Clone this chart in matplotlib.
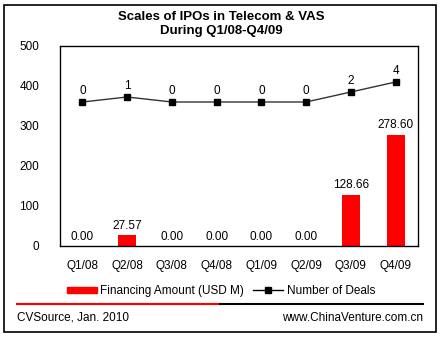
import matplotlib.pyplot as plt
from matplotlib.lines import Line2D
from matplotlib.patches import Rectangle

quarters = ['Q1/08', 'Q2/08', 'Q3/08', 'Q4/08', 'Q1/09', 'Q2/09', 'Q3/09', 'Q4/09']
amounts = [0.00, 27.57, 0.00, 0.00, 0.00, 0.00, 128.66, 278.60]
deals = [0, 1, 0, 0, 0, 0, 2, 4]

plt.rcParams['font.family'] = ['Liberation Sans', 'DejaVu Sans']

fig = plt.figure(figsize=(4.42, 3.38), dpi=100)
W, H = 442, 338

# outer frame
fig.patches.append(Rectangle((4 / W, 1 - 332 / H), 432 / W, 327 / H, transform=fig.transFigure,
                             fill=False, edgecolor='black', linewidth=1.2))

ax = fig.add_axes([60 / W, 1 - 246 / H, 358 / W, 200 / H])
x = list(range(len(quarters)))
ax.bar(x, amounts, width=0.4, color='#ff0000', zorder=2)
for xi, v in zip(x, amounts):
    ax.text(xi, v + 8, f'{v:.2f}', ha='center', va='bottom', fontsize=8.5)
ax.set_xlim(-0.5, len(quarters) - 0.5)
ax.set_ylim(0, 500)
ax.set_yticks([0, 100, 200, 300, 400, 500])
ax.set_xticks(x)
ax.set_xticklabels(quarters)
ax.tick_params(axis='both', length=0, labelsize=8.5)
ax.tick_params(axis='y', pad=15)
ax.tick_params(axis='x', pad=10)
for s in ax.spines.values():
    s.set_linewidth(0.9)

# deal counts on a hidden secondary scale
ax2 = ax.twinx()
ax2.plot(x, deals, color='#333333', linewidth=1, marker='s', markersize=5,
         markerfacecolor='black', markeredgecolor='black')
for xi, d in zip(x, deals):
    ax2.text(xi, d + 1.0, str(d), ha='center', va='bottom', fontsize=8.5)
ax2.set_ylim(-28.8, 11.2)
ax2.set_yticks([])
ax2.set_xlim(-0.5, len(quarters) - 0.5)

fig.text(0.5, 1 - 17 / H, 'Scales of IPOs in Telecom & VAS', ha='center', va='center',
         fontsize=9.5, fontweight='bold')
fig.text(0.5, 1 - 31 / H, 'During Q1/08-Q4/09', ha='center', va='center',
         fontsize=9.5, fontweight='bold')

handles = [Rectangle((0, 0), 1, 1, color='#ff0000'),
           Line2D([], [], color='black', linewidth=1, marker='s', markersize=5)]
fig.legend(handles, ['Financing Amount (USD M)', 'Number of Deals'],
           loc='center', bbox_to_anchor=(0.5, 1 - 291 / H), ncol=2, frameon=False,
           fontsize=8.5, handlelength=2.5, handleheight=0.4, columnspacing=0.8, handletextpad=0.3)

fig.add_artist(Line2D([17 / W, 220 / W], [1 - 304 / H] * 2, color='#ff0000', linewidth=1.5))
fig.add_artist(Line2D([220 / W, 423 / W], [1 - 304 / H] * 2, color='black', linewidth=1.5))
fig.text(17 / W, 1 - 318 / H, 'CVSource, Jan. 2010', ha='left', va='center', fontsize=8.5)
fig.text(423 / W, 1 - 318 / H, 'www.ChinaVenture.com.cn', ha='right', va='center', fontsize=8.5)

fig.savefig('out.png', dpi=100)
